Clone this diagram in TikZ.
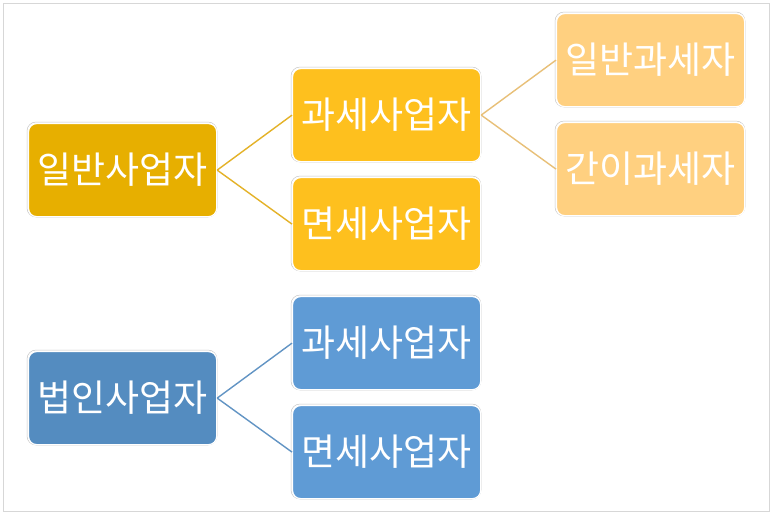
\documentclass[tikz,border=0pt]{standalone}
\usepackage{fontspec}
\newfontfamily\kr{Noto Sans CJK KR}
\definecolor{goldA}{RGB}{231,175,0}
\definecolor{goldB}{RGB}{254,192,30}
\definecolor{goldC}{RGB}{255,208,128}
\definecolor{blueA}{RGB}{84,140,192}
\definecolor{blueB}{RGB}{95,155,213}
\definecolor{lineA}{RGB}{228,178,40}
\definecolor{lineC}{RGB}{232,192,120}
\definecolor{lineB}{RGB}{98,148,196}
\definecolor{frame}{RGB}{215,215,215}
\begin{document}
\begin{tikzpicture}[x=1pt,y=-1pt,
  box/.style={rounded corners=8pt, draw=white, line width=1.2pt,
    minimum width=188pt, minimum height=93pt, inner sep=0pt,
    text=white, font=\kr\fontsize{37}{40}\selectfont, anchor=north west},
  outl/.style={rounded corners=9pt, draw=black!22, line width=0.5pt},
  conn/.style={line width=1.4pt}]
\useasboundingbox (0,0) rectangle (773,515);
\fill[white] (0,0) rectangle (773,515);
\draw[frame, line width=1pt] (3,3) rectangle (769,511);
% outlines
\foreach \x/\y in {28/123,292/68,292/177,556/13,556/122,28/351,292/296,292/405}
  \draw[outl] (\x-1,\y-1) rectangle (\x+189,\y+94);
\node[box, fill=goldA] (a) at (28,123) {일반사업자};
\node[box, fill=goldB] (b) at (292,68) {과세사업자};
\node[box, fill=goldB] (c) at (292,177) {면세사업자};
\node[box, fill=goldC] (d) at (556,13) {일반과세자};
\node[box, fill=goldC] (e) at (556,122) {간이과세자};
\node[box, fill=blueA] (f) at (28,351) {법인사업자};
\node[box, fill=blueB] (g) at (292,296) {과세사업자};
\node[box, fill=blueB] (h) at (292,405) {면세사업자};
\draw[conn, lineA] (a.east) -- (b.west);
\draw[conn, lineA] (a.east) -- (c.west);
\draw[conn, lineC] (b.east) -- (d.west);
\draw[conn, lineC] (b.east) -- (e.west);
\draw[conn, lineB] (f.east) -- (g.west);
\draw[conn, lineB] (f.east) -- (h.west);
\end{tikzpicture}
\end{document}
